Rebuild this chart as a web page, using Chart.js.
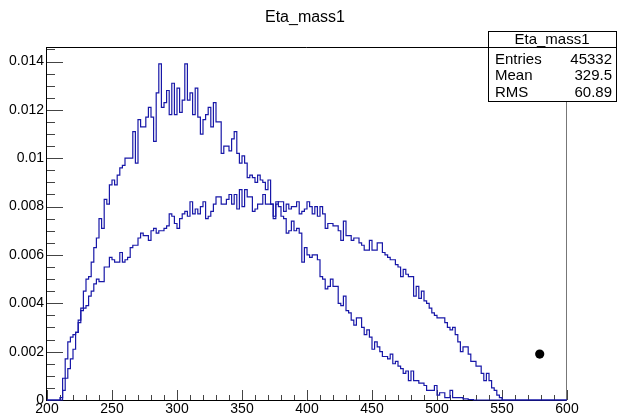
<!DOCTYPE html>
<html>
<head>
<meta charset="utf-8">
<script src="https://cdn.jsdelivr.net/npm/chart.js@4/dist/chart.umd.min.js"></script>
<style>
    html, body { margin: 0; padding: 0; background: #fff; }
    canvas { display: block; }
</style>
</head>
<body>
<canvas id="massChart" width="618" height="416"></canvas>
<script>
// 200 bins of width 2 between 200 and 600
const binLow = 200;
const binWidth = 2;

// narrow distribution, peaks near 0.014
const tallCounts = [
    0, 0, 0, 0, 0, 0, 0.0004, 0.0009, 0.0013, 0.0017,
    0.0021, 0.0028, 0.0032, 0.0038, 0.0045, 0.0050, 0.0051, 0.0057, 0.0063, 0.0067,
    0.0075, 0.0071, 0.0083, 0.0081, 0.0089, 0.0091, 0.0089, 0.0093, 0.0096, 0.0097,
    0.0100, 0.0100, 0.0100, 0.0111, 0.0098, 0.0116, 0.0113, 0.0113, 0.0117, 0.0121,
    0.0117, 0.0107, 0.0127, 0.0139, 0.0121, 0.0123, 0.0128, 0.0118, 0.0131, 0.0118,
    0.0129, 0.0119, 0.0124, 0.0139, 0.0124, 0.0127, 0.0118, 0.0129, 0.0117, 0.0110,
    0.0116, 0.0118, 0.0121, 0.0113, 0.0123, 0.0115, 0.0115, 0.0102, 0.0105, 0.0105,
    0.0103, 0.0108, 0.0111, 0.0102, 0.0098, 0.0101, 0.0098, 0.0092, 0.0093, 0.0092,
    0.0090, 0.0093, 0.0091, 0.0090, 0.0087, 0.0091, 0.0081, 0.0075, 0.0082, 0.0080,
    0.0076, 0.0075, 0.0069, 0.0070, 0.0074, 0.0070, 0.0071, 0.0069, 0.0057, 0.0063,
    0.0060, 0.0059, 0.0060, 0.0060, 0.0058, 0.0051, 0.0050, 0.0046, 0.0047, 0.0050,
    0.0047, 0.0047, 0.0040, 0.0039, 0.0043, 0.0037, 0.0036, 0.0033, 0.0031, 0.0034,
    0.0034, 0.0030, 0.0027, 0.0029, 0.0026, 0.0021, 0.0024, 0.0022, 0.0020, 0.0018,
    0.0018, 0.0017, 0.0019, 0.0015, 0.0016, 0.0014, 0.0013, 0.0011, 0.0012, 0.0008,
    0.0012, 0.0008, 0.0008, 0.0007, 0.0007, 0.0006, 0.0004, 0.0004, 0.0004, 0.0006,
    0.0002, 0.0003, 0.0003, 0.0001, 0.0001, 0.0004, 0.0001, 0.0001, 0.0001, 0.0001,
    0.00005, 0.00005, 0.00002, 0.00002, 0, 0, 0, 0, 0, 0,
    0, 0, 0, 0, 0, 0, 0, 0, 0, 0,
    0, 0, 0, 0, 0, 0, 0, 0, 0, 0,
    0, 0, 0, 0, 0, 0, 0, 0, 0, 0
];

// broad distribution, plateau around 0.008
const wideCounts = [
    0, 0, 0, 0, 0, 0.0001, 0.0009, 0.0017, 0.0024, 0.0026,
    0.0027, 0.0028, 0.0033, 0.0037, 0.0038, 0.0039, 0.0043, 0.0045, 0.0048, 0.0050,
    0.0049, 0.0049, 0.0055, 0.0055, 0.0059, 0.0058, 0.0057, 0.0057, 0.0061, 0.0057,
    0.0058, 0.0059, 0.0063, 0.0064, 0.0064, 0.0067, 0.0069, 0.0068, 0.0068, 0.0066,
    0.0070, 0.0071, 0.0069, 0.0070, 0.0070, 0.0071, 0.0072, 0.0077, 0.0076, 0.0073,
    0.0071, 0.0075, 0.0077, 0.0078, 0.0076, 0.0082, 0.0077, 0.0079, 0.0077, 0.0080,
    0.0082, 0.0075, 0.0076, 0.0078, 0.0081, 0.0084, 0.0084, 0.0081, 0.0081, 0.0083,
    0.0085, 0.0081, 0.0085, 0.0079, 0.0087, 0.0080, 0.0087, 0.0084, 0.0084, 0.0078,
    0.0079, 0.0081, 0.0081, 0.0085, 0.0081, 0.0081, 0.0081, 0.0076, 0.0081, 0.0082,
    0.0082, 0.0078, 0.0081, 0.0079, 0.0080, 0.0080, 0.0082, 0.0077, 0.0078, 0.0079,
    0.0082, 0.0080, 0.0077, 0.0080, 0.0076, 0.0080, 0.0077, 0.0071, 0.0073, 0.0073,
    0.0072, 0.0072, 0.0070, 0.0066, 0.0074, 0.0068, 0.0068, 0.0066, 0.0067, 0.0067,
    0.0065, 0.0064, 0.0062, 0.0062, 0.0066, 0.0062, 0.0062, 0.0065, 0.0065, 0.0061,
    0.0060, 0.0059, 0.0058, 0.0058, 0.0056, 0.0055, 0.0051, 0.0054, 0.0052, 0.0051,
    0.0051, 0.0043, 0.0047, 0.0042, 0.0045, 0.0041, 0.0040, 0.0038, 0.0036, 0.0035,
    0.0034, 0.0034, 0.0034, 0.0032, 0.0030, 0.0029, 0.0030, 0.0027, 0.0024, 0.0020,
    0.0022, 0.0022, 0.0019, 0.0016, 0.0016, 0.0014, 0.0014, 0.0011, 0.0008, 0.0011,
    0.0008, 0.0005, 0.0004, 0.0002, 0.0001, 0, 0, 0, 0, 0,
    0, 0, 0, 0, 0, 0, 0, 0, 0, 0,
    0, 0, 0, 0, 0, 0, 0, 0, 0, 0
];

const markerPoints = [{ x: 579, y: 0.0019 }];

const xTickValues = [200, 250, 300, 350, 400, 450, 500, 550, 600];
const yTickValues = [0, 0.002, 0.004, 0.006, 0.008, 0.01, 0.012, 0.014];

const histTitle = 'Eta_mass1';
const statsRows = [['Entries', '45332'], ['Mean', '329.5'], ['RMS', '60.89']];

const FONT = '"Liberation Sans", Arial, sans-serif';
const LINE_BLUE = 'rgb(24, 24, 168)';

// points at each bin's low edge, plus the closing edge at the top end
function toSteps(counts) {
    const pts = counts.map(function(v, i) {
        return { x: binLow + i * binWidth, y: v };
    });
    pts.push({ x: binLow + counts.length * binWidth, y: counts[counts.length - 1] });
    return pts;
}

// ROOT style frame: ticks pointing into the pad, title and stats box
const rootFrame = {
    id: 'rootFrame',
    beforeDatasetsDraw(chart) {
        const c = chart.ctx;
        const a = chart.chartArea;
        const xs = chart.scales.x;
        const ys = chart.scales.y;
        c.save();
        c.lineWidth = 1;

        // ticks
        c.strokeStyle = '#444';
        c.beginPath();
        const xMinor = (xTickValues[1] - xTickValues[0]) / 5;
        for (let v = xTickValues[0]; v <= xTickValues[xTickValues.length - 1] + 1e-9; v += xMinor) {
            const px = Math.round(xs.getPixelForValue(v)) + 0.5;
            const major = xTickValues.some(function(t) { return Math.abs(t - v) < 1e-6; });
            c.moveTo(px, a.bottom);
            c.lineTo(px, a.bottom - (major ? 10 : 5));
        }
        const yMinor = (yTickValues[1] - yTickValues[0]) / 4;
        for (let v = 0; v <= ys.max + 1e-12; v += yMinor) {
            const py = Math.round(ys.getPixelForValue(v)) + 0.5;
            const major = yTickValues.some(function(t) { return Math.abs(t - v) < 1e-9; });
            c.moveTo(a.left, py);
            c.lineTo(a.left + (major ? 16 : 8), py);
        }
        c.stroke();

        // frame
        c.strokeStyle = '#000';
        c.beginPath();
        c.moveTo(a.left - 0.5, a.top + 0.5);
        c.lineTo(a.right, a.top + 0.5);
        c.moveTo(a.left - 0.5, a.top);
        c.lineTo(a.left - 0.5, a.bottom + 1);
        c.moveTo(a.left - 1, a.bottom + 0.5);
        c.lineTo(a.right, a.bottom + 0.5);
        c.stroke();
        c.strokeStyle = '#777';
        c.beginPath();
        c.moveTo(a.right - 0.5, a.top);
        c.lineTo(a.right - 0.5, a.bottom + 1);
        c.stroke();
        c.restore();
    },
    afterDraw(chart) {
        const c = chart.ctx;
        c.save();
        c.fillStyle = '#000';
        c.font = '16px ' + FONT;
        c.textAlign = 'center';
        c.textBaseline = 'middle';
        c.fillText(histTitle, 305, 18);

        // stats box
        const bx = 488.5, by = 31.5, bw = 128, bh = 70;
        c.fillStyle = '#fff';
        c.fillRect(bx, by, bw, bh);
        c.strokeStyle = '#000';
        c.lineWidth = 1;
        c.strokeRect(bx, by, bw, bh);
        c.beginPath();
        c.moveTo(bx, 47.5);
        c.lineTo(bx + bw, 47.5);
        c.stroke();
        c.fillStyle = '#000';
        c.font = '15px ' + FONT;
        c.fillText(histTitle, 552, 40);
        statsRows.forEach(function(row, i) {
            const ty = 59.5 + i * 16.5;
            c.textAlign = 'left';
            c.fillText(row[0], 495, ty);
            c.textAlign = 'right';
            c.fillText(row[1], 612, ty);
        });
        c.restore();
    }
};

document.addEventListener('DOMContentLoaded', function() {
    const ctx = document.getElementById('massChart');
    if (!ctx) return;

    new Chart(ctx, {
        type: 'line',
        data: {
            datasets: [
                {
                    label: 'tall',
                    data: toSteps(tallCounts),
                    borderColor: LINE_BLUE,
                    borderWidth: 1.2,
                    stepped: true,
                    pointRadius: 0,
                    fill: false,
                    clip: false
                },
                {
                    label: 'wide',
                    data: toSteps(wideCounts),
                    borderColor: LINE_BLUE,
                    borderWidth: 1.2,
                    stepped: true,
                    pointRadius: 0,
                    fill: false,
                    clip: false
                },
                {
                    type: 'scatter',
                    label: 'marker',
                    data: markerPoints,
                    showLine: false,
                    pointRadius: 4.6,
                    pointBackgroundColor: '#000',
                    pointBorderWidth: 0
                }
            ]
        },
        options: {
            responsive: false,
            animation: false,
            events: [],
            layout: {
                padding: { top: 47, right: 51, left: 0, bottom: 0 }
            },
            plugins: {
                legend: { display: false },
                title: { display: false },
                tooltip: { enabled: false }
            },
            scales: {
                x: {
                    type: 'linear',
                    min: 200,
                    max: 600,
                    afterBuildTicks: function(scale) {
                        scale.ticks = xTickValues.map(function(v) { return { value: v }; });
                    },
                    afterFit: function(scale) { scale.height = 16; },
                    grid: { display: false, drawTicks: false },
                    border: { display: false },
                    ticks: {
                        padding: 1,
                        maxRotation: 0,
                        autoSkip: false,
                        color: '#000',
                        font: { family: FONT, size: 14 },
                        callback: function(value) { return String(value); }
                    }
                },
                y: {
                    type: 'linear',
                    min: 0,
                    max: 0.0146,
                    afterBuildTicks: function(scale) {
                        scale.ticks = yTickValues.map(function(v) { return { value: v }; });
                    },
                    afterFit: function(scale) { scale.width = 47; },
                    grid: { display: false, drawTicks: false },
                    border: { display: false },
                    ticks: {
                        padding: 3,
                        autoSkip: false,
                        color: '#000',
                        font: { family: FONT, size: 14 },
                        callback: function(value) {
                            return value === 0 ? '0' : String(parseFloat(value.toFixed(4)));
                        }
                    }
                }
            }
        },
        plugins: [rootFrame]
    });
});
</script>
</body>
</html>
